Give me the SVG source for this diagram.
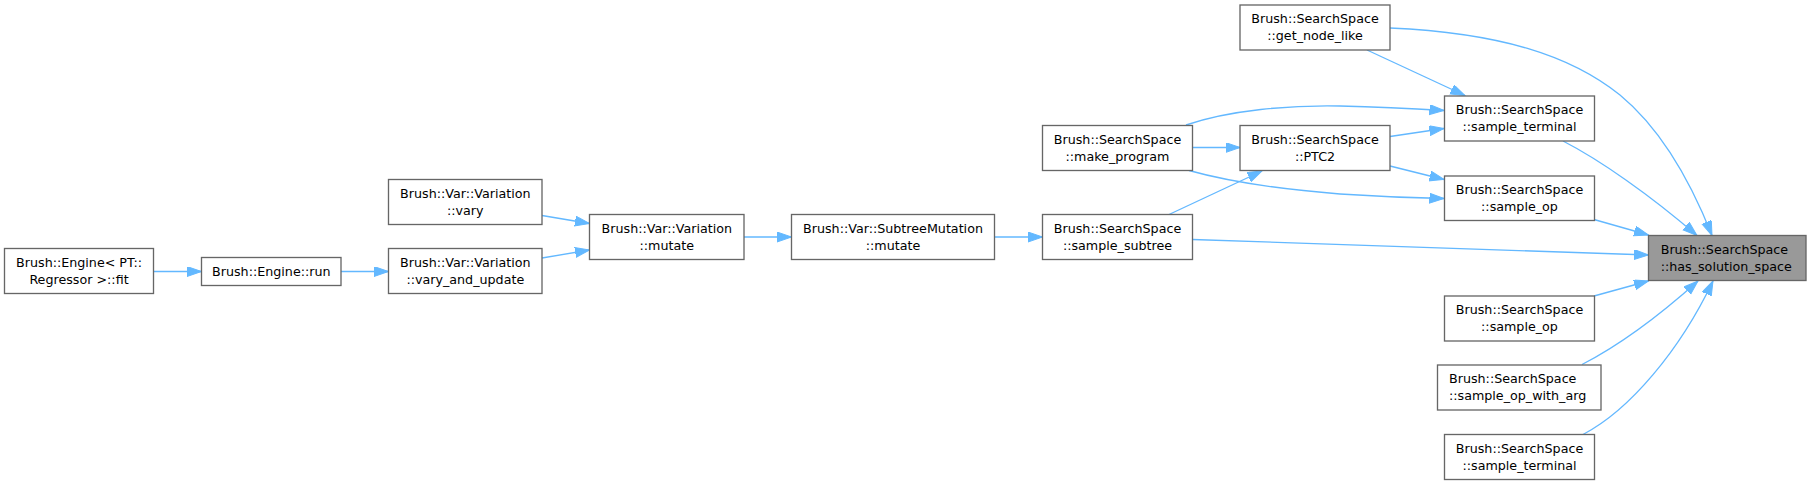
<svg xmlns="http://www.w3.org/2000/svg" width="1811" height="485" viewBox="0 0 1811 485">
<style>
.n rect{fill:#ffffff;stroke:#666666;stroke-width:1.33}
.n.hl rect{fill:#999999}
.n text{font-family:"DejaVu Sans","Liberation Sans",sans-serif;font-size:12.7px;fill:#000000;text-anchor:middle}
.n text.l{text-anchor:start}
.e path{fill:none;stroke:#63b8ff;stroke-width:1.33;marker-end:url(#arr)}
</style>
<defs>
<marker id="arr" markerUnits="userSpaceOnUse" markerWidth="16" markerHeight="12" refX="14.5" refY="5" orient="auto">
<path d="M0,0 L14.5,5 L0,10 z" fill="#63b8ff" stroke="#63b8ff" stroke-width="1"/>
</marker>
</defs>
<rect width="1811" height="485" fill="#ffffff"/>
<g id="edges" class="e">
<path d="M154,271.5 L201.5,271.5"/>
<path d="M341,271.5 L388.5,271.5"/>
<path d="M542,215.5 L589.5,223.5"/>
<path d="M542,258 L589.5,250"/>
<path d="M744,237 L791.5,237"/>
<path d="M995,237 L1042.5,237"/>
<path d="M1169,214.5 L1262,171"/>
<path d="M1192.5,147.5 L1240,147.5"/>
<path d="M1186,125 C1230,110 1290,105 1340,106 C1385,107 1420,109 1444,110.5"/>
<path d="M1189,170.5 C1230,182 1290,190 1340,194 C1385,197 1420,198 1444,198.5"/>
<path d="M1390,136.5 L1444,128.5"/>
<path d="M1390,166 L1444,179.5"/>
<path d="M1367,50 L1465,95.5"/>
<path d="M1390,28 C1500,33 1570,55 1620,95 C1660,128 1690,180 1712,235.5"/>
<path d="M1563,141 C1600,160 1650,195 1697,235.5"/>
<path d="M1594,219.5 L1648.5,235"/>
<path d="M1192.5,239.5 L1648.5,255"/>
<path d="M1594,296 L1648.5,281"/>
<path d="M1582,364.5 C1620,345 1660,315 1698,281"/>
<path d="M1583,434.5 C1630,410 1680,350 1713,281"/>
</g>
<g id="node_fit" class="n"><rect x="4.5" y="248.5" width="149" height="45"/><text x="79" y="266.5">Brush::Engine&lt; PT::</text><text x="79" y="283.5">Regressor &gt;::fit</text></g>
<g id="node_run" class="n"><rect x="201.5" y="257.5" width="139.5" height="28"/><text x="271.3" y="275.7">Brush::Engine::run</text></g>
<g id="node_vary" class="n"><rect x="388.5" y="179.5" width="153.5" height="45"/><text x="465.3" y="197.5">Brush::Var::Variation</text><text x="465.3" y="214.5">::vary</text></g>
<g id="node_vary_and_update" class="n"><rect x="388.5" y="248.5" width="153.5" height="45"/><text x="465.3" y="266.5">Brush::Var::Variation</text><text x="465.3" y="283.5">::vary_and_update</text></g>
<g id="node_mutate" class="n"><rect x="589.5" y="214.5" width="154.5" height="45"/><text x="666.8" y="232.5">Brush::Var::Variation</text><text x="666.8" y="249.5">::mutate</text></g>
<g id="node_subtree_mutate" class="n"><rect x="791.5" y="214.5" width="203" height="45"/><text x="893" y="232.5">Brush::Var::SubtreeMutation</text><text x="893" y="249.5">::mutate</text></g>
<g id="node_sample_subtree" class="n"><rect x="1042.5" y="214.5" width="150" height="45"/><text x="1117.5" y="232.5">Brush::SearchSpace</text><text x="1117.5" y="249.5">::sample_subtree</text></g>
<g id="node_make_program" class="n"><rect x="1042.5" y="125.5" width="150" height="45"/><text x="1117.5" y="143.5">Brush::SearchSpace</text><text x="1117.5" y="160.5">::make_program</text></g>
<g id="node_ptc2" class="n"><rect x="1240" y="125.5" width="150" height="45"/><text x="1315" y="143.5">Brush::SearchSpace</text><text x="1315" y="160.5">::PTC2</text></g>
<g id="node_get_node_like" class="n"><rect x="1240" y="5" width="150" height="45"/><text x="1315" y="23">Brush::SearchSpace</text><text x="1315" y="40">::get_node_like</text></g>
<g id="node_sample_terminal" class="n"><rect x="1444.5" y="96" width="150" height="45"/><text x="1519.5" y="114">Brush::SearchSpace</text><text x="1519.5" y="131">::sample_terminal</text></g>
<g id="node_sample_op" class="n"><rect x="1444.5" y="176" width="150" height="44.5"/><text x="1519.5" y="194">Brush::SearchSpace</text><text x="1519.5" y="211">::sample_op</text></g>
<g id="node_has_solution_space" class="n hl"><rect x="1648.5" y="235.5" width="157.5" height="45"/><text class="l" x="1660.7" y="253.5">Brush::SearchSpace</text><text class="l" x="1660.7" y="270.5">::has_solution_space</text></g>
<g id="node_sample_op2" class="n"><rect x="1444.5" y="296" width="150" height="45"/><text x="1519.5" y="314">Brush::SearchSpace</text><text x="1519.5" y="331">::sample_op</text></g>
<g id="node_sample_op_with_arg" class="n"><rect x="1437.5" y="365" width="163.5" height="45"/><text class="l" x="1449" y="383">Brush::SearchSpace</text><text class="l" x="1449" y="400">::sample_op_with_arg</text></g>
<g id="node_sample_terminal2" class="n"><rect x="1444.5" y="434.5" width="150" height="45"/><text x="1519.5" y="452.5">Brush::SearchSpace</text><text x="1519.5" y="469.5">::sample_terminal</text></g>
</svg>
